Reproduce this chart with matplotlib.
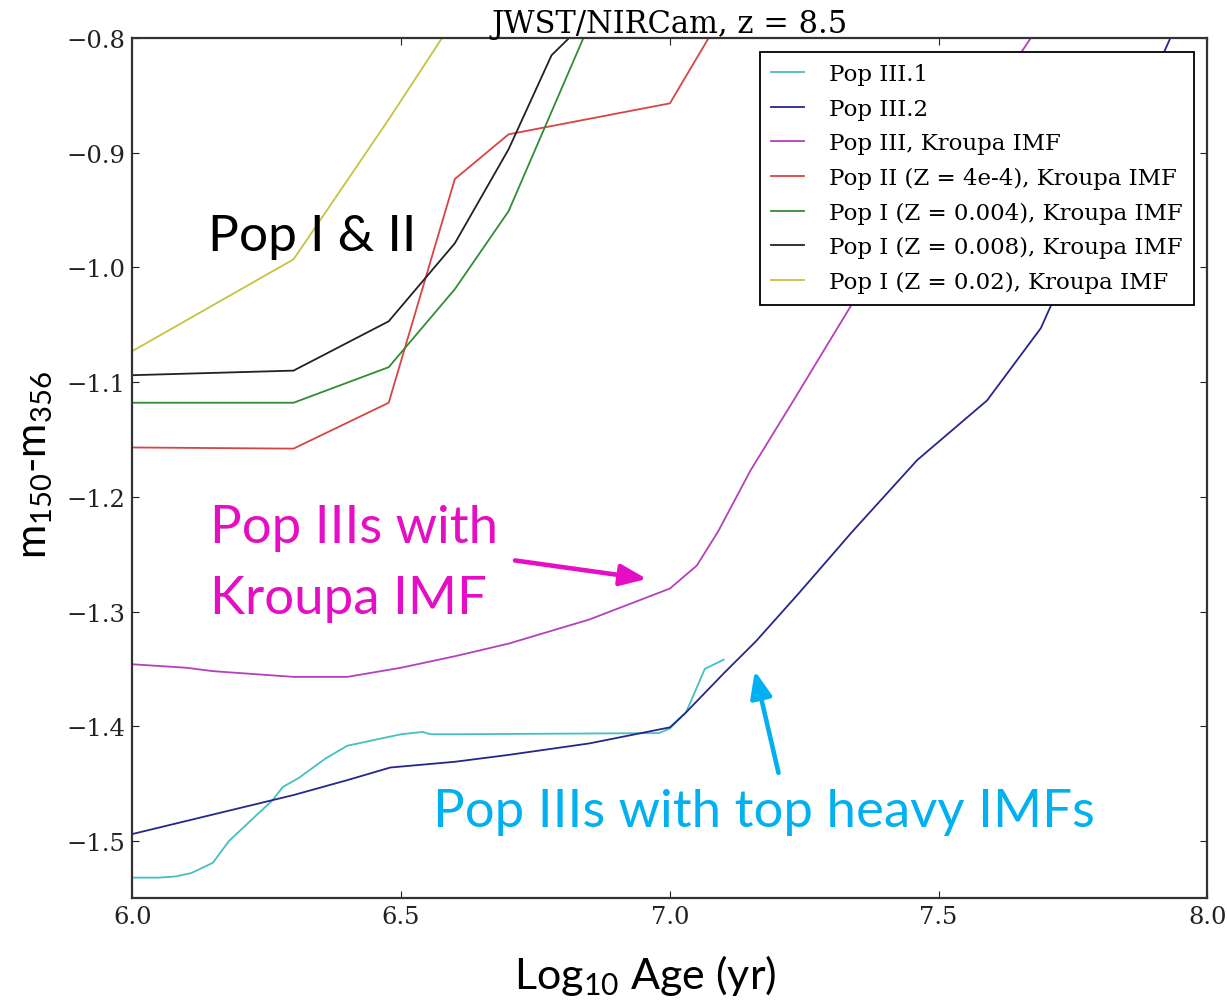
import numpy as np
import matplotlib
matplotlib.use("Agg")
import matplotlib.pyplot as plt

# colour m150 - m356 against log age, JWST/NIRCam at z = 8.5
age_p3_1 = [6.0, 6.05, 6.08, 6.11, 6.15, 6.18, 6.23, 6.26, 6.28, 6.31, 6.36, 6.40,
            6.43, 6.47, 6.50, 6.54, 6.555, 6.60, 6.98, 7.0, 7.03, 7.065, 7.10]
col_p3_1 = [-1.532, -1.532, -1.531, -1.528, -1.519, -1.500, -1.478, -1.465, -1.453,
            -1.445, -1.428, -1.417, -1.414, -1.410, -1.407, -1.405, -1.407, -1.407,
            -1.406, -1.402, -1.388, -1.350, -1.342]

age_p3_2 = [6.0, 6.3, 6.4, 6.48, 6.6, 6.7, 6.85, 7.0, 7.03, 7.1, 7.16, 7.24, 7.34,
            7.46, 7.59, 7.69, 7.95]
col_p3_2 = [-1.494, -1.460, -1.447, -1.436, -1.431, -1.425, -1.415, -1.401, -1.388,
            -1.354, -1.326, -1.284, -1.230, -1.168, -1.116, -1.053, -0.78]

age_p3_kr = [6.0, 6.1, 6.15, 6.3, 6.4, 6.5, 6.6, 6.7, 6.85, 7.0, 7.05, 7.09, 7.15,
             7.23, 7.34, 7.5, 7.7]
col_p3_kr = [-1.346, -1.349, -1.352, -1.357, -1.357, -1.349, -1.339, -1.328, -1.307,
             -1.280, -1.260, -1.230, -1.177, -1.116, -1.031, -0.92, -0.78]

age_p2 = [6.0, 6.3, 6.477, 6.6, 6.7, 7.0, 7.1]
col_p2 = [-1.157, -1.158, -1.118, -0.923, -0.884, -0.857, -0.778]

age_p1_004 = [6.0, 6.3, 6.477, 6.6, 6.7, 6.9]
col_p1_004 = [-1.118, -1.118, -1.087, -1.019, -0.951, -0.734]

age_p1_008 = [6.0, 6.3, 6.477, 6.6, 6.7, 6.78, 6.9]
col_p1_008 = [-1.094, -1.090, -1.047, -0.979, -0.897, -0.815, -0.76]

age_p1_02 = [6.0, 6.3, 6.477, 6.6]
col_p1_02 = [-1.073, -0.993, -0.871, -0.783]

labels = ["Pop III.1", "Pop III.2", "Pop III, Kroupa IMF",
          "Pop II (Z = 4e-4), Kroupa IMF", "Pop I (Z = 0.004), Kroupa IMF",
          "Pop I (Z = 0.008), Kroupa IMF", "Pop I (Z = 0.02), Kroupa IMF"]
colors = ["#45bfbf", "#26268c", "#b440bc", "#d84444", "#338c33", "#222222", "#c4c440"]

plt.rcParams["mathtext.fontset"] = "custom"
plt.rcParams["mathtext.rm"] = "Lato"

fig = plt.figure(figsize=(12.27, 10.04), dpi=100)
ax = fig.add_axes([0.1078, 0.1043, 0.8763, 0.8569])

series = [(age_p3_1, col_p3_1), (age_p3_2, col_p3_2), (age_p3_kr, col_p3_kr),
          (age_p2, col_p2), (age_p1_004, col_p1_004), (age_p1_008, col_p1_008),
          (age_p1_02, col_p1_02)]
for (x, y), lab, c in zip(series, labels, colors):
    ax.plot(x, y, color=c, lw=1.3, label=lab)

ax.set_xlim(6.0, 8.0)
ax.set_ylim(-1.55, -0.8)
ax.set_xticks(np.arange(6.0, 8.01, 0.5))
ax.set_yticks(np.arange(-1.5, -0.79, 0.1))
ax.tick_params(direction="in", top=True, right=True, length=5, width=0.8,
               pad=5, labelsize=17.5, colors="#222222")
for t in ax.get_xticklabels() + ax.get_yticklabels():
    t.set_family("DejaVu Serif")
for s in ax.spines.values():
    s.set_linewidth(1.6)
    s.set_color("#333333")

ax.set_title("JWST/NIRCam, z = 8.5", family="DejaVu Serif", fontsize=22, pad=4)

leg = ax.legend(loc="upper right", prop={"family": "DejaVu Serif", "size": 16.5},
                frameon=True, fancybox=False, framealpha=1, handlelength=1.45,
                handletextpad=1.05, labelspacing=0.55, borderpad=0.5,
                borderaxespad=0.6)
leg.get_frame().set_edgecolor("black")
leg.get_frame().set_linewidth(1.3)

# annotations
magenta = "#e60ec4"
skyblue = "#00b0f0"
ax.text(6.141, -0.9845, "Pop I & II", family="Lato", fontsize=37, va="baseline")
ax.text(6.145, -1.2395, "Pop IIIs with", family="Lato", fontsize=38,
        color=magenta, va="baseline")
ax.text(6.145, -1.301, "Kroupa IMF", family="Lato", fontsize=38,
        color=magenta, va="baseline")
ax.text(6.559, -1.4872, "Pop IIIs with top heavy IMFs", family="Lato", fontsize=38,
        color=skyblue, va="baseline")
ax.annotate("", xy=(6.957, -1.2716), xytext=(6.712, -1.2555),
            arrowprops=dict(arrowstyle="-|>,head_length=1.6,head_width=0.65",
                            color=magenta, lw=3.3, shrinkA=0, shrinkB=0))
ax.annotate("", xy=(7.158, -1.3517), xytext=(7.202, -1.4406),
            arrowprops=dict(arrowstyle="-|>,head_length=1.6,head_width=0.65",
                            color=skyblue, lw=3.3, shrinkA=0, shrinkB=0))

fig.text(0.5257, 0.015, r"Log$\mathregular{_{10}}$ Age (yr)", family="Lato",
         fontsize=31, ha="center", va="baseline")
fig.text(0.029, 0.537, r"m$\mathregular{_{150}}$-m$\mathregular{_{356}}$",
         family="Lato", fontsize=30, rotation=90, ha="center", va="center")

fig.savefig("out.png", dpi=100)
